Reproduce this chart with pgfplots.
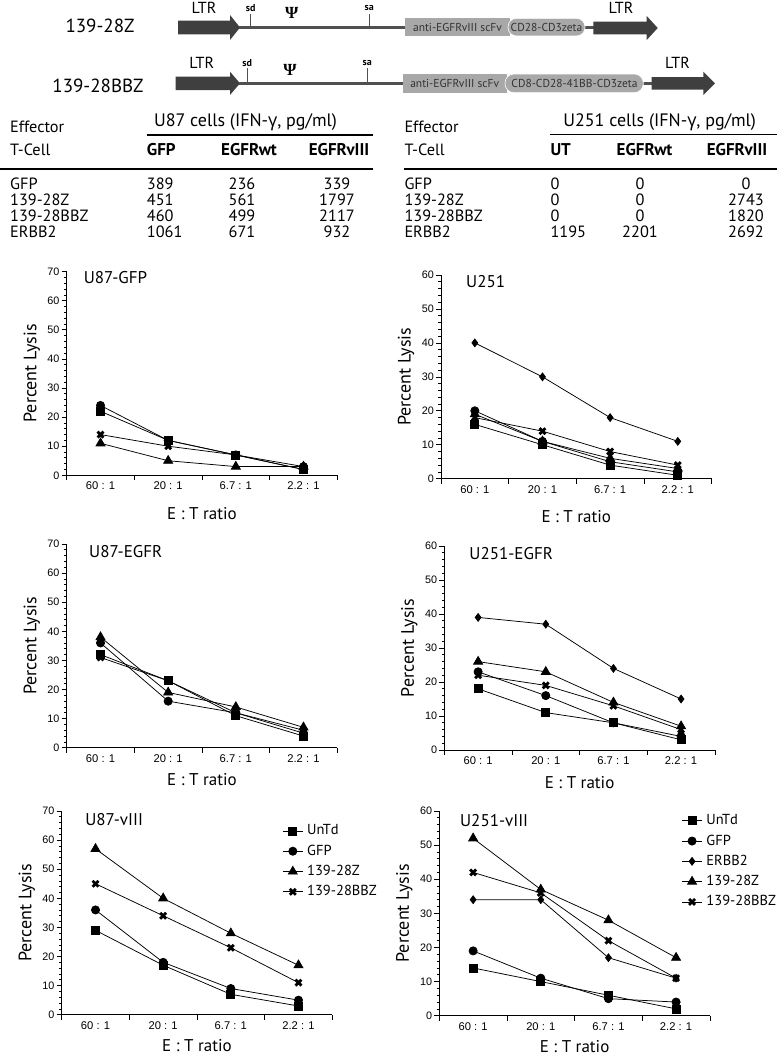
\documentclass[border=0pt]{standalone}
\usepackage{pgfplots}
\pgfplotsset{compat=1.18}
\usepackage{fontspec}
\setmainfont{PT Sans}
\newfontfamily\arial{Liberation Sans}
\newfontfamily\greekf{Open Sans}
\newfontfamily\serifg{Liberation Serif}
\newcommand\fs[1]{\fontsize{#1}{#1}\selectfont}
\definecolor{arrowc}{HTML}{3F3F3F}
\definecolor{linec}{HTML}{505050}
\definecolor{boxc}{HTML}{A8A8A8}
\definecolor{boxt}{HTML}{333333}

\pgfplotsset{
  lys/.style={
    scale only axis, width=270.6pt, anchor=south west,
    xmin=0, xmax=4, ymin=0,
    axis x line*=bottom, axis y line*=left,
    axis line style={line width=0.8pt},
    tick align=outside, major tick length=5pt, minor tick length=2.6pt,
    every tick/.style={black, line width=0.7pt},
    xtick={0,1,2,3,4}, xticklabels={},
    extra x ticks={0.5,1.5,2.5,3.5},
    extra x tick labels={60 : 1,20 : 1,6.7 : 1,2.2 : 1},
    extra x tick style={major tick length=0pt},
    ytick distance=10, minor y tick num=4,
    /pgf/number format/assume math mode=true,
    yticklabel style={font=\arial\fs{10.8}, inner sep=2pt},
    xticklabel style={font=\arial\fs{11.2}, yshift=-3pt},
    ylabel={Percent Lysis}, xlabel={E : T ratio},
    every axis y label/.style={at={(axis description cs:-0.129,0.5)}, rotate=90, anchor=center, font=\fs{18}},
    every axis x label/.style={at={(axis description cs:0.5,-0.158)}, anchor=center, font=\fs{17}},
    clip=false,
    legend style={draw=none, fill=none, anchor=north west, font=\fs{14.5}, row sep=3.3pt, column sep=2.5pt,
      inner sep=0pt, nodes={inner sep=1.5pt, text height=11pt, text depth=3pt}},
    legend cell align=left,
    legend image code/.code={\draw[mark repeat=2,mark phase=2,##1] plot coordinates {(0pt,0pt) (10pt,0pt) (20pt,0pt)};},
  },
  mSq/.style={black, line width=0.75pt, mark=square*, mark size=4pt},
  mCi/.style={black, line width=0.75pt, mark=*, mark size=4.1pt},
  mTr/.style={black, line width=0.75pt, mark=triangle*, mark size=5.2pt},
  mDi/.style={black, line width=0.75pt, mark=diamond*, mark size=3.9pt},
  mX/.style={black, line width=0.75pt, mark=x, mark size=4.2pt, mark options={line width=2.8pt}},
}

\begin{document}
\begin{tikzpicture}
\useasboundingbox (0,0) rectangle (777pt,-1057pt);
\begin{scope}[x=1pt,y=-1pt]
% ---------- construct 1 ----------
\fill[arrowc] (178,20.7) -- (230,20.7) -- (230,15) -- (240,27.5) -- (230,40) -- (230,34.3) -- (178,34.3) -- cycle;
\draw[linec, line width=3.5pt] (239,27.5) -- (406,27.5);
\draw[linec, line width=3.5pt] (584,27.5) -- (594,27.5);
\draw[linec, line width=1pt] (250,14) -- (250,27.5);
\draw[linec, line width=1pt] (369.3,14) -- (369.3,27.5);
\fill[boxc] (405,18.3) rectangle (510,36);
\filldraw[fill=boxc, draw=white, line width=0.6pt, rounded corners=8.5pt] (508,18.3) rectangle (585,36);
\fill[arrowc] (593.3,21.7) -- (646.7,21.7) -- (646.7,16) -- (657.7,28) -- (646.7,40) -- (646.7,34.3) -- (593.3,34.3) -- cycle;
\node[font=\fs{19}] at (100,25.7) {139-28Z};
\node[font=\fs{16}] at (204,8) {LTR};
\node[font=\fs{16}] at (621,8) {LTR};
\node[font=\bfseries\fs{10}] at (250.7,8) {sd};
\node[font=\bfseries\fs{10}] at (369.3,8) {sa};
\node[font=\serifg\bfseries\fs{17}] at (291.7,13.3) {Ψ};
\node[font=\fs{11.5}, text=boxt] at (457.5,27.5) {anti-EGFRvIII scFv};
\node[font=\fs{11.5}, text=boxt] at (546.5,27.5) {CD28-CD3zeta};
% ---------- construct 2 ----------
\fill[arrowc] (175.7,76.5) -- (230,76.5) -- (230,71.7) -- (240,83.3) -- (230,95) -- (230,90.2) -- (175.7,90.2) -- cycle;
\draw[linec, line width=3.5pt] (239,83.3) -- (404,83.3);
\draw[linec, line width=3.5pt] (642,83.3) -- (652,83.3);
\draw[linec, line width=1pt] (247.3,68.5) -- (247.3,83.3);
\draw[linec, line width=1pt] (367.3,68.5) -- (367.3,83.3);
\fill[boxc] (402.7,74) rectangle (506.7,92.7);
\filldraw[fill=boxc, draw=white, line width=0.6pt, rounded corners=9pt] (505,74) rectangle (643.3,92.7);
\fill[arrowc] (651.7,77) -- (703.3,77) -- (703.3,71.7) -- (715,83.3) -- (703.3,95) -- (703.3,89.7) -- (651.7,89.7) -- cycle;
\node[font=\fs{19}] at (98,86) {139-28BBZ};
\node[font=\fs{16}] at (201.7,63) {LTR};
\node[font=\fs{16}] at (677.5,63) {LTR};
\node[font=\bfseries\fs{10}] at (247.3,63) {sd};
\node[font=\bfseries\fs{10}] at (367.3,63.5) {sa};
\node[font=\serifg\bfseries\fs{17}] at (290,70) {Ψ};
\node[font=\fs{11.5}, text=boxt] at (454.7,83.3) {anti-EGFRvIII scFv};
\node[font=\fs{11.5}, text=boxt] at (574.5,83.3) {CD8-CD28-41BB-CD3zeta};
% ---------- tables ----------
\begin{scope}[every node/.style={inner sep=0pt, text height=0.7em, text depth=0pt, font=\fs{16.3}}]
% left table
\node[anchor=west] at (10,129) {Effector};
\node[anchor=west] at (10,151.7) {T-Cell};
\node[font=\fs{18}] at (245.5,122.7) {U87 cells (IFN-{\greekf γ}, pg/ml)};
\draw[line width=1.2pt] (146.7,135) -- (372.7,135);
\node[anchor=west, font=\bfseries\fs{17}] at (146.7,151.7) {GFP};
\node[font=\bfseries\fs{17}] at (249,151.7) {EGFRwt};
\node[font=\bfseries\fs{17}] at (339,151.7) {EGFRvIII};
\draw[line width=2.4pt] (0,169) -- (373.3,169);
\node[anchor=west] at (10,186) {GFP};
\node[anchor=west] at (10,202.3) {139-28Z};
\node[anchor=west] at (10,218.3) {139-28BBZ};
\node[anchor=west] at (10,234.3) {ERBB2};
\node[anchor=west] at (146.7,186) {389};
\node[anchor=west] at (146.7,202.3) {451};
\node[anchor=west] at (146.7,218.3) {460};
\node[anchor=west] at (146.7,234.3) {1061};
\node at (242,186) {236};
\node at (242,202.3) {561};
\node at (242,218.3) {499};
\node at (242,234.3) {671};
\node at (337,186) {339};
\node at (337,202.3) {1797};
\node at (337,218.3) {2117};
\node at (337,234.3) {932};
% right table
\node[anchor=west] at (404.3,129) {Effector};
\node[anchor=west] at (404.3,151.7) {T-Cell};
\node[font=\fs{18}] at (659.7,122.7) {U251 cells (IFN-{\greekf γ}, pg/ml)};
\draw[line width=1.2pt] (549.7,134.5) -- (777,134.5);
\node[anchor=west, font=\bfseries\fs{17}] at (550.3,151.7) {UT};
\node[font=\bfseries\fs{17}] at (644.5,151.7) {EGFRwt};
\node[font=\bfseries\fs{17}] at (737,151.7) {EGFRvIII};
\draw[line width=2.4pt] (404.3,169) -- (777,169);
\node[anchor=west] at (404.3,186) {GFP};
\node[anchor=west] at (404.3,202.3) {139-28Z};
\node[anchor=west] at (404.3,218.3) {139-28BBZ};
\node[anchor=west] at (404.3,234.3) {ERBB2};
\node[anchor=west] at (550.3,186) {0};
\node[anchor=west] at (550.3,202.3) {0};
\node[anchor=west] at (550.3,218.3) {0};
\node[anchor=west] at (550.3,234.3) {1195};
\node at (640,186) {0};
\node at (640,202.3) {0};
\node at (640,218.3) {0};
\node at (640,234.3) {2201};
\node at (746,186) {0};
\node at (746,202.3) {2743};
\node at (746,218.3) {1820};
\node at (746,234.3) {2692};
\end{scope}
\end{scope}

% ---------- P1 U87-GFP ----------
\begin{axis}[lys, at={(66.7pt,-475.3pt)}, height=203.7pt, ymax=70,
  every axis x label/.style={at={(axis description cs:0.5,-0.187)}, anchor=center, font=\fs{17}}]
\addplot[mSq] coordinates {(0.5,22) (1.5,12) (2.5,7) (3.5,2)};
\addplot[mCi] coordinates {(0.5,24) (1.5,12) (2.5,7) (3.5,3)};
\addplot[mTr] coordinates {(0.5,11) (1.5,5) (2.5,3) (3.5,3)};
\addplot[mX] coordinates {(0.5,14) (1.5,10) (2.5,7) (3.5,2)};
\node[anchor=west, font=\fs{17}] at (axis description cs:0.05,0.97) {U87-GFP};
\end{axis}

% ---------- P2 U251 ----------
\begin{axis}[lys, at={(441pt,-478.7pt)}, height=203.7pt, ymax=60,
  every axis x label/.style={at={(axis description cs:0.5,-0.187)}, anchor=center, font=\fs{17}}]
\addplot[mSq] coordinates {(0.5,16) (1.5,10) (2.5,4) (3.5,1)};
\addplot[mCi] coordinates {(0.5,20) (1.5,11) (2.5,5) (3.5,2)};
\addplot[mDi] coordinates {(0.5,40) (1.5,30) (2.5,18) (3.5,11)};
\addplot[mTr] coordinates {(0.5,19) (1.5,11) (2.5,6) (3.5,3)};
\addplot[mX] coordinates {(0.5,18) (1.5,14) (2.5,8) (3.5,4)};
\node[anchor=west, font=\fs{17}] at (axis description cs:0.08,0.97) {U251};
\end{axis}

% ---------- P3 U87-EGFR ----------
\begin{axis}[lys, at={(66.7pt,-747.7pt)}, height=203.7pt, ymax=70]
\addplot[mSq] coordinates {(0.5,32) (1.5,23) (2.5,11) (3.5,4)};
\addplot[mCi] coordinates {(0.5,36) (1.5,16) (2.5,12) (3.5,5)};
\addplot[mTr] coordinates {(0.5,38) (1.5,19) (2.5,14) (3.5,7)};
\addplot[mX] coordinates {(0.5,31) (1.5,23) (2.5,12) (3.5,6)};
\node[anchor=west, font=\fs{17}] at (axis description cs:0.07,0.962) {U87-EGFR};
\end{axis}

% ---------- P4 U251-EGFR ----------
\begin{axis}[lys, at={(444.3pt,-750pt)}, height=204pt, ymax=60]
\addplot[mSq] coordinates {(0.5,18) (1.5,11) (2.5,8) (3.5,3)};
\addplot[mCi] coordinates {(0.5,23) (1.5,16) (2.5,8) (3.5,4)};
\addplot[mDi] coordinates {(0.5,39) (1.5,37) (2.5,24) (3.5,15)};
\addplot[mTr] coordinates {(0.5,26) (1.5,23) (2.5,14) (3.5,7)};
\addplot[mX] coordinates {(0.5,22) (1.5,19) (2.5,13) (3.5,6)};
\node[anchor=west, font=\fs{17}] at (axis description cs:0.08,0.964) {U251-EGFR};
\end{axis}

% ---------- P5 U87-vIII ----------
\begin{axis}[lys, at={(61.7pt,-1014.7pt)}, height=203.7pt, ymax=70,
  every axis x label/.style={at={(axis description cs:0.5,-0.152)}, anchor=center, font=\fs{17}},
  legend style={at={(axis description cs:0.815,0.945)}}]
\addplot[mSq] coordinates {(0.5,29) (1.5,17) (2.5,7) (3.5,3)};
\addplot[mCi] coordinates {(0.5,36) (1.5,18) (2.5,9) (3.5,5)};
\addplot[mTr] coordinates {(0.5,57) (1.5,40) (2.5,28) (3.5,17)};
\addplot[mX] coordinates {(0.5,45) (1.5,34) (2.5,23) (3.5,11)};
\legend{UnTd,GFP,139-28Z,139-28BBZ}
\node[anchor=west, font=\fs{17}] at (axis description cs:0.074,0.959) {U87-vIII};
\end{axis}

% ---------- P6 U251-vIII ----------
\begin{axis}[lys, at={(439.3pt,-1015.7pt)}, height=204.7pt, ymax=60,
  every axis x label/.style={at={(axis description cs:0.5,-0.152)}, anchor=center, font=\fs{17}},
  legend style={at={(axis description cs:0.895,0.995)}}]
\addplot[mSq] coordinates {(0.5,14) (1.5,10) (2.5,6) (3.5,2)};
\addplot[mCi] coordinates {(0.5,19) (1.5,11) (2.5,5) (3.5,4)};
\addplot[mDi] coordinates {(0.5,34) (1.5,34) (2.5,17) (3.5,11)};
\addplot[mTr] coordinates {(0.5,52) (1.5,37) (2.5,28) (3.5,17)};
\addplot[mX] coordinates {(0.5,42) (1.5,36) (2.5,22) (3.5,11)};
\legend{UnTd,GFP,ERBB2,139-28Z,139-28BBZ}
\node[anchor=west, font=\fs{17}] at (axis description cs:0.064,0.951) {U251-vIII};
\end{axis}
\end{tikzpicture}
\end{document}
